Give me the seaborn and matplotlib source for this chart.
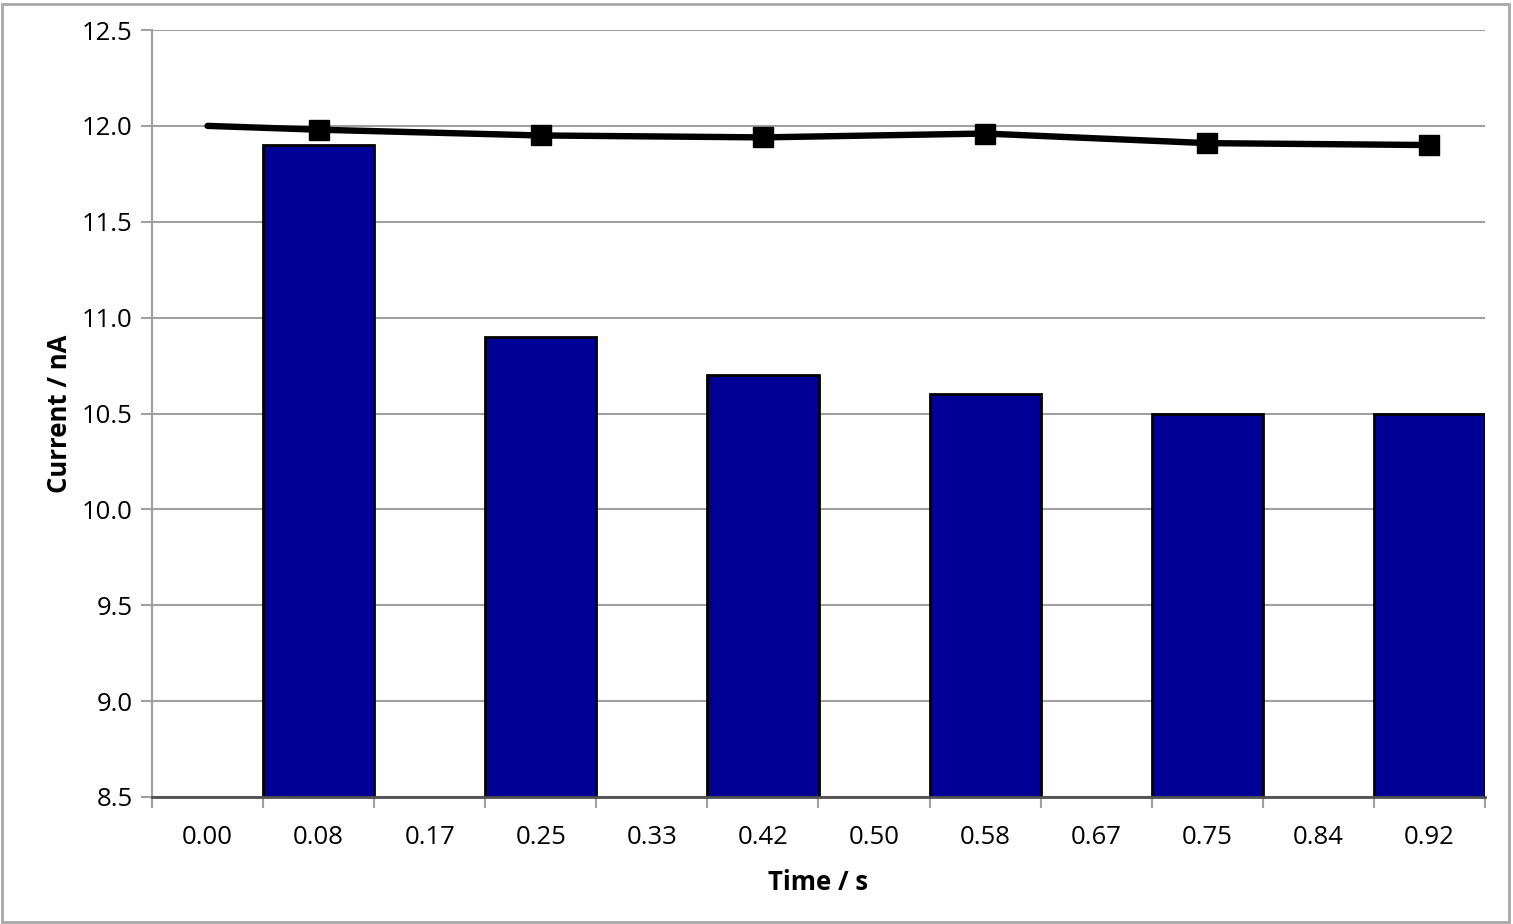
import numpy as np
import pandas as pd
import matplotlib
matplotlib.use("Agg")
import matplotlib.pyplot as plt
import seaborn as sns
from matplotlib.ticker import FixedLocator

categories = ["0.00", "0.08", "0.17", "0.25", "0.33", "0.42",
              "0.50", "0.58", "0.67", "0.75", "0.84", "0.92"]
bar_values = [np.nan, 11.9, np.nan, 10.9, np.nan, 10.7,
              np.nan, 10.6, np.nan, 10.5, np.nan, 10.5]
line_categories = ["0.00", "0.08", "0.25", "0.42", "0.58", "0.75", "0.92"]
line_values = [12.0, 11.98, 11.95, 11.94, 11.96, 11.91, 11.90]
y_ticks = [8.5, 9.0, 9.5, 10.0, 10.5, 11.0, 11.5, 12.0, 12.5]

sns.set_theme(style="white")
plt.rcParams['font.family'] = ['Open Sans', 'DejaVu Sans']

fig = plt.figure(figsize=(15.13, 9.24), dpi=100)
ax = fig.add_axes([152/1513, 1-797/924, (1485-152)/1513, (797-30)/924])

df = pd.DataFrame({"time": categories, "current": bar_values}).dropna()
sns.barplot(data=df, x="time", y="current", order=categories, width=1.0,
            color="#000096", edgecolor="black", linewidth=2, saturation=1,
            ax=ax, zorder=2)

xs = [categories.index(c) for c in line_categories]
ax.plot(xs, line_values, color="black", lw=4.6, solid_capstyle="round",
        marker="s", markersize=14.5, markevery=list(range(1, len(xs))),
        markerfacecolor="black", markeredgecolor="black", zorder=4,
        clip_on=False)

ax.set_xlim(-0.5, len(categories) - 0.5)
ax.set_ylim(8.5, 12.5)
ax.set_yticks(y_ticks)
ax.set_yticklabels([f"{v:.1f}" for v in y_ticks])
ax.set_xticks(range(len(categories)))
ax.set_xticklabels(categories)
ax.xaxis.set_minor_locator(FixedLocator(np.arange(-0.5, len(categories), 1.0)))

ax.yaxis.grid(True, color="#a0a0a0", lw=1.5, zorder=0)
ax.set_axisbelow(True)
for s in ["top", "right"]:
    ax.spines[s].set_visible(False)
ax.spines["left"].set_color("#a0a0a0")
ax.spines["left"].set_linewidth(1.5)
ax.spines["bottom"].set_color("#505050")
ax.spines["bottom"].set_linewidth(2)
ax.spines["bottom"].set_zorder(5)

ax.tick_params(axis="y", which="major", length=8, width=1.5, color="#a0a0a0",
               direction="out", left=True, labelsize=18.5, pad=6,
               labelcolor="black")
ax.tick_params(axis="x", which="major", length=0, labelsize=18.5, pad=20,
               labelcolor="black")
ax.tick_params(axis="x", which="minor", length=8, width=1.5, color="#a0a0a0",
               direction="out", bottom=True)

ax.set_xlabel("Time / s", fontsize=18.5, fontweight="bold", labelpad=14,
              color="black")
ax.set_ylabel("Current / nA", fontsize=18.5, fontweight="bold", labelpad=6,
              color="black")

border = plt.Rectangle((2/1513, 2/924), 1-6/1513, 1-6/924, transform=fig.transFigure,
                       fill=False, edgecolor="#a8a8a8", lw=2)
fig.patches.append(border)

fig.savefig("out.png", dpi=100)
